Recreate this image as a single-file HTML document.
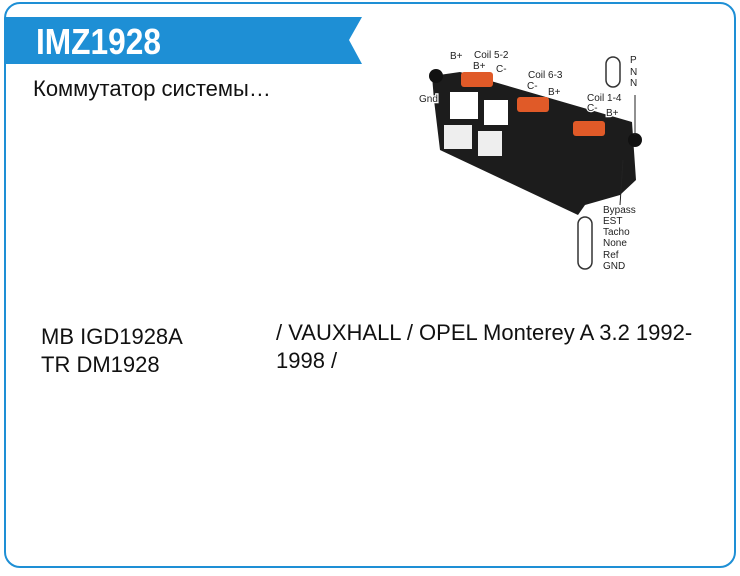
<!DOCTYPE html>
<html><head><meta charset="utf-8"><style>
body{margin:0;width:740px;height:576px;background:#fff;position:relative;font-family:"Liberation Sans",sans-serif;overflow:hidden}
.frame{position:absolute;left:4px;top:2px;width:728px;height:562px;border:2px solid #1e8fd5;border-radius:16px}
.t{position:absolute;color:#111;font-size:22px}
.lb text{paint-order:stroke;stroke:#fff;stroke-width:2.5px}
</style></head><body>
<div class="frame"></div>
<svg style="position:absolute;left:0;top:0" width="740" height="576">
<polygon points="6,17 362,17 349,40 362,64 6,64" fill="#1e8fd5"/>
<text x="36" y="54" fill="#fff" font-family="Liberation Sans" font-weight="bold" font-size="36" transform="scale(0.88,1)" style="transform-origin:36px 54px">IMZ1928</text>
<g font-family="Liberation Sans" font-size="10" fill="#222">
<path d="M432,76 L460,72 L632,122 L636,180 L620,195 L585,205 L578,215 L440,150 L434,100 Z" fill="#1c1c1c"/>
<rect x="450" y="92" width="28" height="27" fill="#fff"/>
<rect x="484" y="100" width="24" height="25" fill="#fff"/>
<rect x="444" y="125" width="28" height="24" fill="#eee"/>
<rect x="478" y="131" width="24" height="25" fill="#eee"/>
<circle cx="436" cy="76" r="7" fill="#111"/>
<circle cx="635" cy="140" r="7" fill="#111"/>
<rect x="461" y="72" width="32" height="15" rx="3" fill="#e05a28"/>
<rect x="517" y="97" width="32" height="15" rx="3" fill="#e05a28"/>
<rect x="573" y="121" width="32" height="15" rx="3" fill="#e05a28"/>
<g class="lb">
<text x="450" y="59">B+</text><text x="474" y="58">Coil 5-2</text><text x="473" y="69">B+</text><text x="496" y="72">C-</text>
<text x="528" y="78">Coil 6-3</text><text x="527" y="89">C-</text><text x="548" y="95">B+</text>
<text x="587" y="101">Coil 1-4</text><text x="587" y="111">C-</text><text x="606" y="116">B+</text>
<text x="419" y="102">Gnd</text>
<text x="630" y="63">P</text><text x="630" y="75">N</text><text x="630" y="86">N</text>
<text x="603" y="213">Bypass</text><text x="603" y="224">EST</text><text x="603" y="235">Tacho</text><text x="603" y="246">None</text><text x="603" y="258">Ref</text><text x="603" y="269">GND</text>
</g>
<rect x="606" y="57" width="14" height="30" rx="7" fill="none" stroke="#333" stroke-width="1.5"/>
<rect x="578" y="217" width="14" height="52" rx="7" fill="none" stroke="#333" stroke-width="1.5"/>
<line x1="635" y1="95" x2="635" y2="135" stroke="#222"/>
<line x1="623" y1="160" x2="620" y2="205" stroke="#222"/>
</g>
</svg>
<div class="t" style="left:33px;top:76px">Коммутатор системы…</div>
<div class="t" style="left:41px;top:323px;line-height:28px">MB IGD1928A<br>TR DM1928</div>
<div class="t" style="left:276px;top:319px;line-height:28px;width:450px">/ VAUXHALL / OPEL Monterey A 3.2 1992-<br>1998 /</div>
</body></html>
